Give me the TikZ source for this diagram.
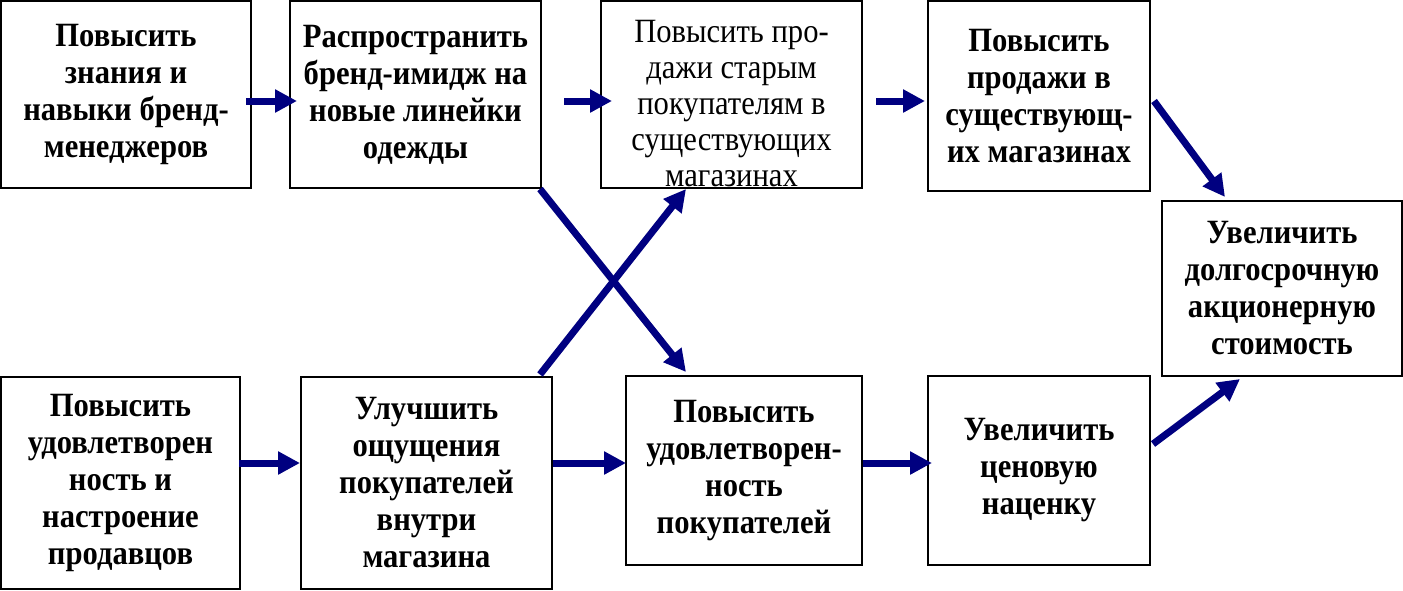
\documentclass[tikz,border=0pt]{standalone}
\usepackage{fontspec}
\setmainfont[FakeStretch=0.9]{Liberation Serif}
\usetikzlibrary{arrows.meta,calc}
\definecolor{navyarrow}{RGB}{0,0,128}
\begin{document}
\begin{tikzpicture}
[
    x=0.5pt, y=-0.5pt,
    box/.style={draw, line width=1pt, rectangle, align=center, inner sep=0pt,
        font=\fontsize{17}{18.5}\selectfont\bfseries},
    plaintext/.style={align=center, inner sep=0pt, font=\fontsize{17}{18}\selectfont},
    link/.style={draw=navyarrow, line width=3.5pt, -{Triangle[length=11pt,width=11pt]}},
]
\useasboundingbox (0,0) rectangle (1403,590);
% top row
\node[box, minimum width=125pt, minimum height=93.5pt] (b1) at (126,94.5)
    {Повысить\\знания и\\навыки бренд-\\менеджеров};
\node[box, minimum width=125.5pt, minimum height=93.5pt] (b2) at (415.5,94.5)
    {Распространить\\бренд-имидж на\\новые линейки\\одежды};
\node[box, minimum width=130.5pt, minimum height=93.5pt] (b3) at (731.5,94.5) {};
\node[plaintext] (t3) at (731.5,104)
    {Повысить про-\\дажи старым\\покупателям в\\существующих\\магазинах};
\node[box, minimum width=111pt, minimum height=95pt] (b4) at (1039,96)
    {Повысить\\продажи в\\существующ-\\их магазинах};
\node[box, minimum width=120pt, minimum height=87.5pt] (b5) at (1282,288.5)
    {Увеличить\\долгосрочную\\акционерную\\стоимость};
% bottom row
\node[box, minimum width=119.5pt, minimum height=106pt] (b6) at (120.5,482.5)
    {Повысить\\удовлетворен\\ность и\\настроение\\продавцов};
\node[box, minimum width=125.5pt, minimum height=106pt] (b7) at (426.5,482.5)
    {Улучшить\\ощущения\\покупателей\\внутри\\магазина};
\node[box, minimum width=118pt, minimum height=94.5pt] (b8) at (744,470.5)
    {Повысить\\удовлетворен-\\ность\\покупателей};
\node[box, minimum width=111pt, minimum height=94.5pt] (b9) at (1039,470.5)
    {Увеличить\\ценовую\\наценку};
% arrows
\draw[link] ($(b1.east)+(-6,6.5)$) -- ($(b2.west)+(8,6.5)$);
\draw[link] ($(b2.east)+(22,6.5)$) -- ($(b3.west)+(12,6.5)$);
\draw[link] ($(b3.east)+(13,6.5)$) -- ($(b4.west)+(-2,5)$);
\draw[link] ($(b4.east)+(3,5)$) -- ($(b5.north)+(-57,-3)$);
\draw[link] ($(b6.east)+(-2,-19.5)$) -- ($(b7.west)+(0,-19.5)$);
\draw[link] ($(b7.east)+(0,-19.5)$) -- ($(b8.west)+(1,-7.5)$);
\draw[link] ($(b8.east)+(0,-7.5)$) -- ($(b9.west)+(5,-7.5)$);
\draw[link] ($(b9.east)+(2,-26.5)$) -- ($(b5.south)+(-42,2)$);
\draw[link] ($(b2.south east)+(-2,0)$) -- ($(b8.north west)+(61,-3)$);
\draw[link] ($(b7.north east)+(-13,-1)$) -- ($(b3.south west)+(86,0)$);
\end{tikzpicture}
\end{document}
